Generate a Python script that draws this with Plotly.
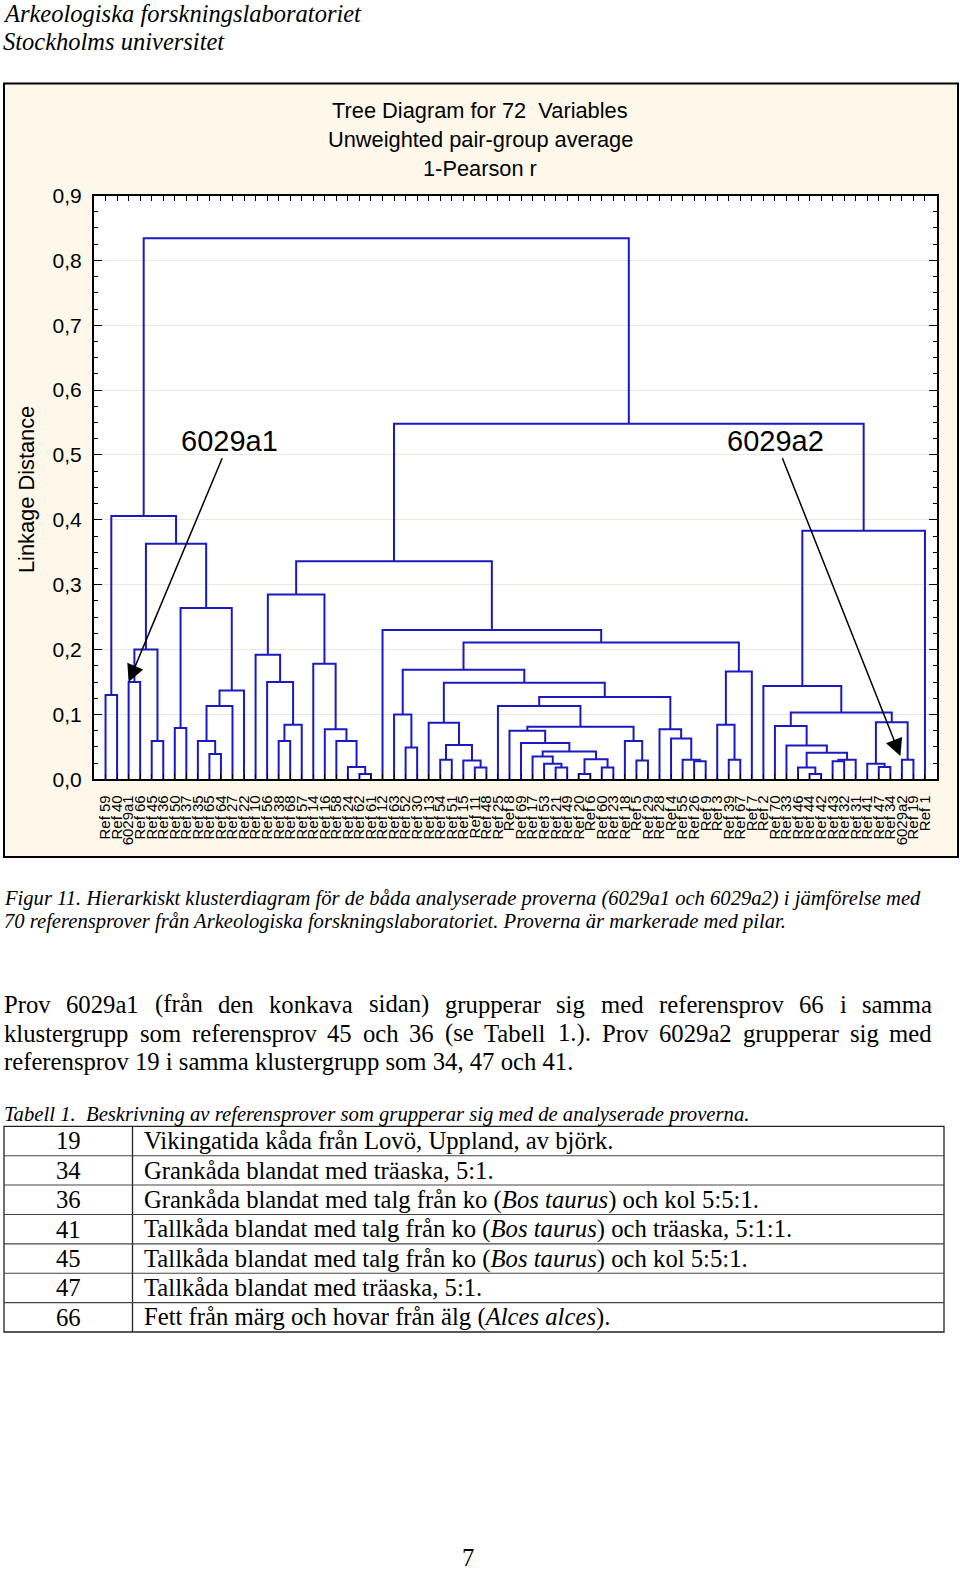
import plotly.graph_objects as go

# ---------------- data ----------------
leaf_labels = [
    "Ref 59", "Ref 40", "6029a1", "Ref 66", "Ref 45", "Ref 36", "Ref 50", "Ref 37", "Ref 35", "Ref 65",
    "Ref 64", "Ref 27", "Ref 22", "Ref 10", "Ref 56", "Ref 38", "Ref 68", "Ref 57", "Ref 14", "Ref 16",
    "Ref 58", "Ref 24", "Ref 62", "Ref 61", "Ref 12", "Ref 63", "Ref 52", "Ref 30", "Ref 13", "Ref 54",
    "Ref 51", "Ref 15", "Ref 11", "Ref 48", "Ref 25", "Ref 8", "Ref 69", "Ref 17", "Ref 53", "Ref 21",
    "Ref 49", "Ref 20", "Ref 6", "Ref 60", "Ref 23", "Ref 18", "Ref 5", "Ref 29", "Ref 28", "Ref 4",
    "Ref 55", "Ref 26", "Ref 9", "Ref 3", "Ref 39", "Ref 67", "Ref 7", "Ref 2", "Ref 70", "Ref 33",
    "Ref 46", "Ref 44", "Ref 42", "Ref 43", "Ref 32", "Ref 31", "Ref 41", "Ref 47", "Ref 34", "6029a2",
    "Ref 19", "Ref 1",
]

# linkage: node ids < 72 are leaves, id 72+k is merge k
merge_a = [0, 2, 4, 73, 6, 9, 8, 78, 79, 76, 75, 72,
           15, 84, 14, 13, 22, 21, 20, 19, 18, 87,
           26, 25,
           29, 32, 31, 96, 28,
           39, 38, 37, 41, 43, 104, 103, 36, 35, 46, 45, 109, 34,
           51, 50, 49, 48,
           113, 100, 95,
           54, 53, 122,
           120, 24, 93,
           61, 60, 63, 129, 128, 59, 58, 67, 66, 69, 135, 133, 57, 139, 126, 83]
merge_b = [1, 3, 5, 74, 7, 10, 77, 11, 12, 80, 81, 82,
           16, 17, 85, 86, 23, 88, 89, 90, 91, 92,
           27, 94,
           30, 33, 97, 98, 99,
           40, 101, 102, 42, 44, 105, 106, 107, 108, 47, 110, 111, 112,
           52, 114, 115, 116,
           117, 118, 119,
           55, 121, 56,
           123, 124, 125,
           62, 127, 64, 65, 130, 131, 132, 68, 134, 70, 136, 137, 138, 71, 140, 141]
merge_h = [0.130, 0.150, 0.059, 0.200, 0.079, 0.039, 0.059, 0.113, 0.137, 0.264, 0.363, 0.406,
           0.059, 0.084, 0.150, 0.192, 0.008, 0.019, 0.059, 0.077, 0.178, 0.285,
           0.049, 0.100,
           0.030, 0.018, 0.029, 0.053, 0.087,
           0.018, 0.024, 0.035, 0.008, 0.018, 0.031, 0.043, 0.056, 0.075, 0.029, 0.059, 0.081, 0.113,
           0.028, 0.030, 0.063, 0.077,
           0.127, 0.149, 0.169,
           0.030, 0.084, 0.166,
           0.211, 0.230, 0.336,
           0.008, 0.018, 0.028, 0.030, 0.041, 0.052, 0.082, 0.019, 0.024, 0.030, 0.088, 0.103, 0.144,
           0.383, 0.548, 0.834]

y_tick_vals = [0.0, 0.1, 0.2, 0.3, 0.4, 0.5, 0.6, 0.7, 0.8, 0.9]
y_tick_text = ["0,0", "0,1", "0,2", "0,3", "0,4", "0,5", "0,6", "0,7", "0,8", "0,9"]

title_lines = ["Tree Diagram for 72\u00a0 Variables", "Unweighted pair-group average", "1-Pearson r"]
y_title = "Linkage Distance"
marked_samples = ["6029a1", "6029a2"]

header_lines = ["Arkeologiska forskningslaboratoriet", "Stockholms universitet"]
caption_lines = [
    "Figur 11. Hierarkiskt klusterdiagram för de båda analyserade proverna (6029a1 och 6029a2) i jämförelse med",
    "70 referensprover från Arkeologiska forskningslaboratoriet. Proverna är markerade med pilar.",
]
para_line1 = ["Prov", "6029a1", "(från", "den", "konkava", "sidan)", "grupperar", "sig", "med",
              "referensprov", "66", "i", "samma"]
para_line2 = ["klustergrupp", "som", "referensprov", "45", "och", "36", "(se", "Tabell", "1.).",
              "Prov", "6029a2", "grupperar", "sig", "med"]
para_line3 = "referensprov 19 i samma klustergrupp som 34, 47 och 41."
table_caption = "Tabell 1.\u00a0 Beskrivning av referensprover som grupperar sig med de analyserade proverna."
table_ids = ["19", "34", "36", "41", "45", "47", "66"]
table_desc = [
    "Vikingatida kåda från Lovö, Uppland, av björk.",
    "Grankåda blandat med träaska, 5:1.",
    "Grankåda blandat med talg från ko (<i>Bos taurus</i>) och kol 5:5:1.",
    "Tallkåda blandat med talg från ko (<i>Bos taurus</i>) och träaska, 5:1:1.",
    "Tallkåda blandat med talg från ko (<i>Bos taurus</i>) och kol 5:5:1.",
    "Tallkåda blandat med träaska, 5:1.",
    "Fett från märg och hovar från älg (<i>Alces alces</i>).",
]
page_number = "7"

# ---------------- layout helpers ----------------
W, H = 960, 1574
def fx(x):
    return x / W
def fy(y):
    return 1 - y / H

SANS = "Liberation Sans, Arial, sans-serif"
SERIF = "Liberation Serif, Times New Roman, serif"
BLUE = "#1a1ac2"
CREAM = "#fdf8ea"
BODY = 24.7

# ---------------- dendrogram geometry from linkage ----------------
n = len(leaf_labels)
pos = {i: float(i) for i in range(n)}
hgt = {i: 0.0 for i in range(n)}
parent_h = {}
xs, ys = [], []
for k, (a, b, h) in enumerate(zip(merge_a, merge_b, merge_h)):
    node = n + k
    xs += [pos[a], pos[a], pos[b], pos[b], None]
    ys += [hgt[a], h, h, hgt[b], None]
    pos[node] = (pos[a] + pos[b]) / 2
    hgt[node] = h
    parent_h[a] = h
    parent_h[b] = h

fig = go.Figure()
fig.add_trace(go.Scatter(x=xs, y=ys, mode="lines", line=dict(color=BLUE, width=2),
                         hoverinfo="skip", showlegend=False))

shapes = []
# chart frame
shapes.append(dict(type="rect", xref="paper", yref="paper", x0=fx(4), x1=fx(958), y0=fy(857), y1=fy(83.5),
                   fillcolor=CREAM, line=dict(color="black", width=2), layer="below"))
shapes.append(dict(type="rect", xref="x domain", yref="y domain", x0=0, x1=1, y0=0, y1=1,
                   fillcolor="white", line=dict(width=0), layer="below"))

annotations = []
# chart titles
for i, t in enumerate(title_lines):
    annotations.append(dict(text=t, xref="paper", yref="paper", x=fx(480), y=fy(110.5 + 29 * i),
                            xanchor="center", yanchor="middle", showarrow=False,
                            font=dict(family=SANS, size=21.8, color="black")))
annotations.append(dict(text=y_title, xref="paper", yref="paper", x=fx(27), y=fy(490), textangle=-90,
                        xanchor="center", yanchor="middle", showarrow=False,
                        font=dict(family=SANS, size=21.8, color="black")))

# arrows to the marked samples
arrow_text_pos = [(10.74, 0.522), (58.05, 0.522)]
arrow_standoff = [0, 4]
for s, (tx, ty), so in zip(marked_samples, arrow_text_pos, arrow_standoff):
    li = leaf_labels.index(s)
    annotations.append(dict(text=s, x=li, y=parent_h[li], xref="x", yref="y",
                            ax=tx, ay=ty, axref="x", ayref="y", showarrow=True,
                            arrowhead=2, arrowsize=2.3, arrowwidth=1.5, arrowcolor="black",
                            standoff=so, font=dict(family=SANS, size=29, color="black")))

# header
for i, t in enumerate(header_lines):
    annotations.append(dict(text="<i>" + t + "</i>", xref="paper", yref="paper", x=fx(0.5), y=fy(13 + 28 * i),
                            xanchor="left", yanchor="middle", showarrow=False,
                            font=dict(family=SERIF, size=24.5, color="black")))
# caption
for i, t in enumerate(caption_lines):
    annotations.append(dict(text="<i>" + t + "</i>", xref="paper", yref="paper", x=fx(1.5), y=fy(898.5 + 23.3 * i),
                            xanchor="left", yanchor="middle", showarrow=False,
                            font=dict(family=SERIF, size=20.6, color="black")))

# justified paragraph
TIMES = {' ': 250, '(': 333, ')': 333, '.': 250, ',': 250, 'a': 444, 'b': 500, 'c': 444, 'd': 500,
         'e': 444, 'f': 333, 'g': 500, 'h': 500, 'i': 278, 'j': 278, 'k': 500, 'l': 278, 'm': 778,
         'n': 500, 'o': 500, 'p': 500, 'q': 500, 'r': 333, 's': 389, 't': 278, 'u': 500, 'v': 500,
         'w': 722, 'x': 500, 'y': 500, 'z': 444, 'å': 444, 'ä': 444, 'ö': 500, 'P': 556, 'T': 611}
def tw(word, size):
    return sum(TIMES.get(c, 500) for c in word) / 1000 * size

def justify(words, x0, x1, size):
    widths = [tw(w, size) for w in words]
    gap = (x1 - x0 - sum(widths)) / (len(words) - 1)
    out, x = [], x0
    for w in widths:
        out.append(x)
        x += w + gap
    return out

for words, yy in ((para_line1, 1004), (para_line2, 1033)):
    for w, x in zip(words, justify(words, 4, 932, BODY)):
        annotations.append(dict(text=w, xref="paper", yref="paper", x=fx(x - 2), y=fy(yy),
                                xanchor="left", yanchor="middle", showarrow=False,
                                font=dict(family=SERIF, size=BODY, color="black")))
annotations.append(dict(text=para_line3, xref="paper", yref="paper", x=fx(2), y=fy(1061.5),
                        xanchor="left", yanchor="middle", showarrow=False,
                        font=dict(family=SERIF, size=BODY, color="black")))

# table
annotations.append(dict(text="<i>" + table_caption + "</i>", xref="paper", yref="paper", x=fx(1.5), y=fy(1114),
                        xanchor="left", yanchor="middle", showarrow=False,
                        font=dict(family=SERIF, size=20.7, color="black")))
T_TOP, T_BOT, T_L, T_R, T_COL = 1126.3, 1332, 4, 944, 132.5
row_h = (T_BOT - T_TOP) / len(table_ids)
shapes.append(dict(type="rect", xref="paper", yref="paper", x0=fx(T_L), x1=fx(T_R), y0=fy(T_BOT), y1=fy(T_TOP),
                   line=dict(color="#222222", width=1.3)))
shapes.append(dict(type="line", xref="paper", yref="paper", x0=fx(T_COL), x1=fx(T_COL), y0=fy(T_BOT), y1=fy(T_TOP),
                   line=dict(color="#222222", width=1.3)))
for r in range(1, len(table_ids)):
    yy = T_TOP + r * row_h
    shapes.append(dict(type="line", xref="paper", yref="paper", x0=fx(T_L), x1=fx(T_R), y0=fy(yy), y1=fy(yy),
                       line=dict(color="#444444", width=1.1)))
for r, (tid, desc) in enumerate(zip(table_ids, table_desc)):
    yy = T_TOP + (r + 0.5) * row_h
    annotations.append(dict(text=tid, xref="paper", yref="paper", x=fx(68.5), y=fy(yy),
                            xanchor="center", yanchor="middle", showarrow=False,
                            font=dict(family=SERIF, size=BODY, color="black")))
    annotations.append(dict(text=desc, xref="paper", yref="paper", x=fx(141.5), y=fy(yy),
                            xanchor="left", yanchor="middle", showarrow=False,
                            font=dict(family=SERIF, size=BODY, color="black")))

annotations.append(dict(text=page_number, xref="paper", yref="paper", x=fx(467.5), y=fy(1557.5),
                        xanchor="center", yanchor="middle", showarrow=False,
                        borderpad=0, borderwidth=0,
                        font=dict(family=SERIF, size=BODY, color="black")))

fig.update_layout(
    template="none",
    width=W, height=H, autosize=False,
    margin=dict(l=0, r=0, t=0, b=0, pad=0, autoexpand=False),
    paper_bgcolor="white", plot_bgcolor="white",
    showlegend=False,
    shapes=shapes, annotations=annotations,
    xaxis=dict(domain=[fx(94), fx(936.5)], range=[-1, n], tickmode="array",
               tickvals=list(range(n)), ticktext=leaf_labels, tickangle=-90,
               tickfont=dict(family=SANS, size=15, color="black"),
               ticks="inside", ticklen=5, tickwidth=1, tickcolor="black",
               ticklabelstandoff=8, automargin=False,
               showline=True, linecolor="black", linewidth=2, mirror="allticks",
               showgrid=False, zeroline=False, fixedrange=True),
    yaxis=dict(domain=[fy(779.3), fy(195.5)], range=[0, 0.9], tickmode="array",
               tickvals=y_tick_vals, ticktext=y_tick_text,
               tickfont=dict(family=SANS, size=21, color="black"),
               ticks="inside", ticklen=8, tickwidth=1.2, tickcolor="black",
               minor=dict(dtick=0.025, ticks="inside", ticklen=4, tickcolor="black", showgrid=False),
               ticklabelstandoff=6, automargin=False,
               showline=True, linecolor="black", linewidth=2, mirror="allticks",
               showgrid=True, gridcolor="#ece8de", gridwidth=1, zeroline=False, fixedrange=True),
)

fig.write_html("out.html", config={"displayModeBar": False},
               post_script="document.body.style.margin='0px';")
